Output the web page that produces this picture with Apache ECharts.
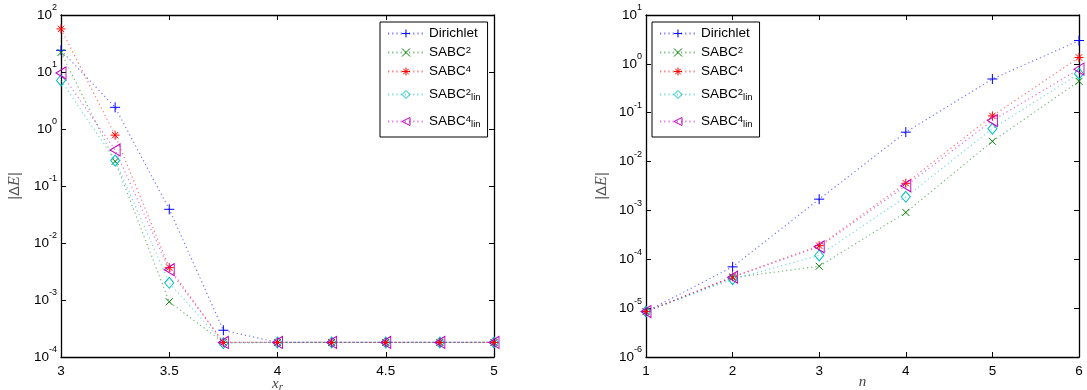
<!DOCTYPE html>
<html>
<head>
<meta charset="utf-8">
<script src="https://cdn.jsdelivr.net/npm/echarts@6/dist/echarts.min.js"></script>
<style>html,body{margin:0;padding:0;background:#fff}#c{width:1087px;height:390px}</style>
</head>
<body>
<div id="c"></div>
<script>
// ---- data ----
var xLeft = [3, 3.25, 3.5, 3.75, 4, 4.25, 4.5, 4.75, 5];
var dirLeft      = [24, 2.4, 0.039, 2.95e-4, 1.8e-4, 1.8e-4, 1.8e-4, 1.8e-4, 1.8e-4];
var sabc2Left    = [22, 0.27, 9.3e-4, 1.8e-4, 1.8e-4, 1.8e-4, 1.8e-4, 1.8e-4, 1.8e-4];
var sabc4Left    = [57, 0.78, 3.7e-3, 1.8e-4, 1.8e-4, 1.8e-4, 1.8e-4, 1.8e-4, 1.8e-4];
var sabc2linLeft = [7.1, 0.28, 2.0e-3, 1.75e-4, 1.8e-4, 1.8e-4, 1.8e-4, 1.8e-4, 1.8e-4];
var sabc4linLeft = [9.6, 0.43, 3.4e-3, 1.8e-4, 1.8e-4, 1.8e-4, 1.8e-4, 1.8e-4, 1.8e-4];

var nRight = [1, 2, 3, 4, 5, 6];
var dirRight      = [8.5e-6, 7.0e-5, 1.7e-3, 0.040, 0.49, 3.0];
var sabc2Right    = [8.5e-6, 4.2e-5, 7.2e-5, 9.1e-4, 0.026, 0.44];
var sabc4Right    = [8.5e-6, 4.4e-5, 1.9e-4, 3.6e-3, 0.086, 1.35];
var sabc2linRight = [8.5e-6, 3.9e-5, 1.2e-4, 1.9e-3, 0.047, 0.63];
var sabc4linRight = [8.5e-6, 4.3e-5, 1.8e-4, 3.2e-3, 0.069, 0.78];

var seriesNames = ['Dirichlet', 'SABC2', 'SABC4', 'SABC2lin', 'SABC4lin'];
var legendLabels = {
  'Dirichlet': 'Dirichlet',
  'SABC2': 'SABC{sup|2}',
  'SABC4': 'SABC{sup|4}',
  'SABC2lin': '{t|SABC}{sup|2}{sub|lin}',
  'SABC4lin': '{t|SABC}{sup|4}{sub|lin}'
};

// ---- styles ----
var colors = ['#0000ff', '#008000', '#ff0000', '#00bfbf', '#bf00bf'];
var symbols = [
  'path://M5,0L5,10M0,5L10,5',
  'path://M0,0L10,10M0,10L10,0',
  'path://M5,0L5,10M0,5L10,5M1.5,1.5L8.5,8.5M1.5,8.5L8.5,1.5',
  'path://M5,0L10,5L5,10L0,5Z',
  'path://M0,5L10,0L10,10Z'
];
var symbolSizes = [10, 7, 9, [9, 11], [10, 12]];
var FONT = 'Liberation Sans, Arial, Helvetica, sans-serif';
var SERIF = 'Liberation Serif, serif';

function pairs(xs, ys) { return xs.map(function (x, i) { return [x, ys[i]]; }); }

function logLabel(v) {
  var e = Math.round(Math.log10(v));
  return '{b|10}{s|' + e + '}';
}
var logRich = {
  b: { fontSize: 13.5, fontFamily: FONT, color: '#000', padding: [4.5, 0, 4.5, 0] },
  s: { fontSize: 9, fontFamily: FONT, color: '#000', verticalAlign: 'top', lineHeight: 10 }
};

function makeX(gridIndex, min, max, interval, name, nameRich, top) {
  return {
    type: 'value', gridIndex: gridIndex, min: min, max: max, interval: interval,
    position: top ? 'top' : 'bottom',
    name: top ? '' : name, nameLocation: 'middle', nameGap: 18, nameMoveOverlap: false,
    nameTextStyle: { fontFamily: SERIF, fontSize: 14, color: '#444', rich: nameRich },
    axisLine: { show: true, onZero: false, lineStyle: { color: '#000', width: 1.3 } },
    axisTick: { show: true, inside: true, length: 5, lineStyle: { color: '#000' } },
    axisLabel: { show: !top, color: '#000', fontFamily: FONT, fontSize: 13.5, margin: 7 },
    splitLine: { show: false }
  };
}
function makeY(gridIndex, min, max, right, gap) {
  return {
    type: 'log', logBase: 10, gridIndex: gridIndex, min: min, max: max,
    position: right ? 'right' : 'left',
    splitNumber: 10,
    name: right ? '' : '|Δ{i|E}|', nameLocation: 'middle', nameGap: gap, nameRotate: 90,
    nameTextStyle: { fontFamily: FONT, fontSize: 15, color: '#555',
      rich: { i: { fontFamily: SERIF, fontStyle: 'italic', fontSize: 16, color: '#555' } } },
    axisLine: { show: true, onZero: false, lineStyle: { color: '#000', width: 1.3 } },
    axisTick: { show: true, inside: true, length: 5, lineStyle: { color: '#000' } },
    axisLabel: { show: !right, formatter: logLabel, rich: logRich, margin: 4 },
    splitLine: { show: false }
  };
}

var leftData = [dirLeft, sabc2Left, sabc4Left, sabc2linLeft, sabc4linLeft];
var rightData = [dirRight, sabc2Right, sabc4Right, sabc2linRight, sabc4linRight];

var series = [];
function addSeries(xs, dataSets, xAxisIndex, yAxisIndex) {
  dataSets.forEach(function (ys, i) {
    var hollow = (i >= 3);
    series.push({
      type: 'line', name: seriesNames[i],
      xAxisIndex: xAxisIndex, yAxisIndex: yAxisIndex,
      data: pairs(xs, ys),
      symbol: symbols[i], symbolSize: symbolSizes[i],
      showAllSymbol: true, clip: false, animation: false,
      lineStyle: { type: [1.2, 3], width: 1.2, color: colors[i], opacity: 0.55 },
      itemStyle: { color: hollow ? 'rgba(255,255,255,0)' : colors[i], borderColor: colors[i], borderWidth: 1 },
      emphasis: { disabled: true }
    });
  });
}
addSeries(xLeft, leftData, 0, 0);
addSeries(nRight, rightData, 2, 2);

function makeLegend(left) {
  return {
    orient: 'vertical', left: left, top: 22,
    data: seriesNames,
    formatter: function (n) { return legendLabels[n]; },
    backgroundColor: '#fff', borderColor: '#000', borderWidth: 1, borderRadius: 0,
    padding: [4, 7, 4, 7], itemGap: 4, itemWidth: 36, itemHeight: 10,
    selectedMode: false,
    itemStyle: { borderWidth: 1 },
    textStyle: {
      fontFamily: FONT, fontSize: 13.5, color: '#000', lineHeight: 15,
      rich: {
        t: { fontSize: 13.5, fontFamily: FONT, color: '#000', padding: [4.5, 0, 4.5, 0], lineHeight: 15 },
        sup: { fontSize: 9.5, fontFamily: FONT, color: '#000', verticalAlign: 'top', lineHeight: 10 },
        sub: { fontSize: 9.5, fontFamily: FONT, color: '#000', verticalAlign: 'bottom', lineHeight: 10 }
      }
    }
  };
}

var option = {
  animation: false,
  backgroundColor: '#fff',
  grid: [
    { left: 61, top: 15, width: 433, height: 342, outerBoundsMode: 'none', containLabel: false },
    { left: 646, top: 15, width: 433, height: 342, outerBoundsMode: 'none', containLabel: false }
  ],
  xAxis: [
    makeX(0, 3, 5, 0.5, '{i|x}{sub|r}', {
      i: { fontFamily: SERIF, fontStyle: 'italic', fontSize: 15, color: '#444' },
      sub: { fontFamily: SERIF, fontStyle: 'italic', fontSize: 11, color: '#444', verticalAlign: 'bottom', padding: [7, 0, 0, 0] }
    }, false),
    makeX(0, 3, 5, 0.5, '', {}, true),
    makeX(1, 1, 6, 1, '{i|n}', {
      i: { fontFamily: SERIF, fontStyle: 'italic', fontSize: 15, color: '#444' }
    }, false),
    makeX(1, 1, 6, 1, '', {}, true)
  ],
  yAxis: [
    makeY(0, 1e-4, 1e2, false, 38),
    makeY(0, 1e-4, 1e2, true, 0),
    makeY(1, 1e-6, 1e1, false, 36),
    makeY(1, 1e-6, 1e1, true, 0)
  ],
  legend: [makeLegend(380), makeLegend(652)],
  series: series
};

var chart = echarts.init(document.getElementById('c'), null, { renderer: 'canvas' });
chart.setOption(option);
</script>
</body>
</html>
